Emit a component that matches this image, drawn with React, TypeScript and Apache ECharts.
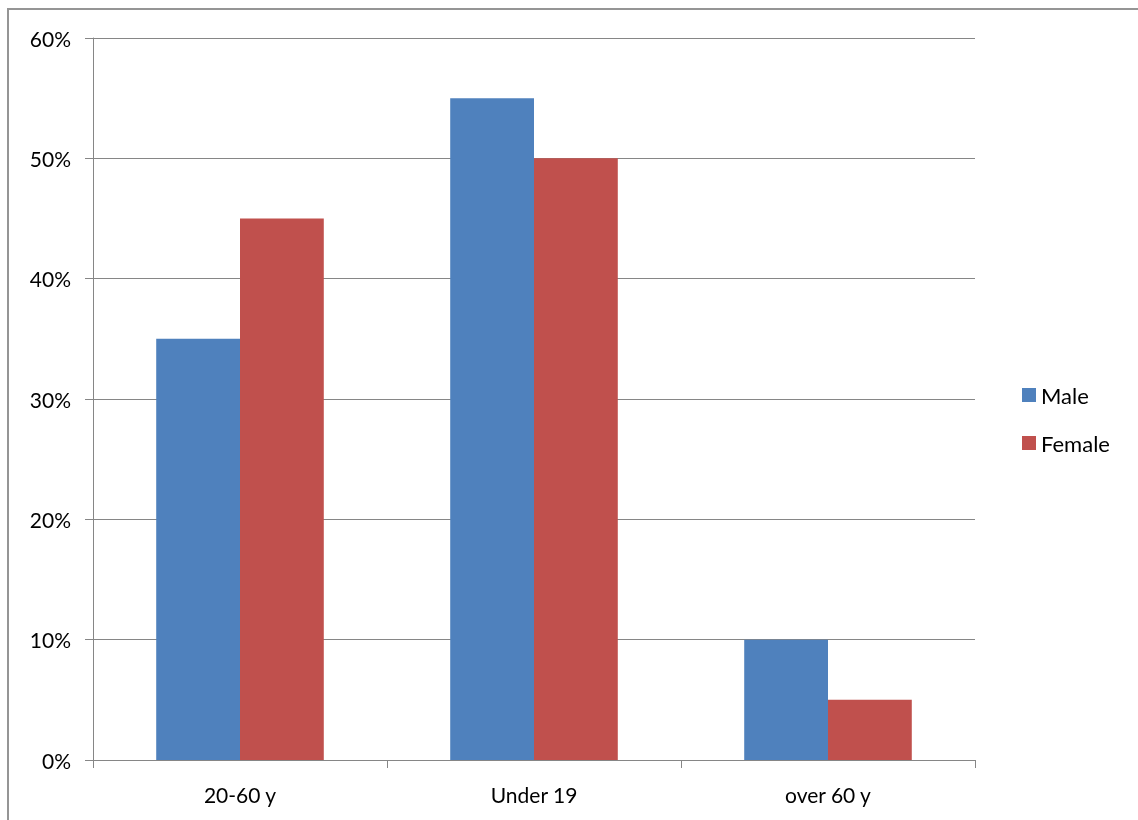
import React, { useEffect, useRef } from "react";
import * as echarts from "echarts";

const categories = ["20-60 y", "Under 19", "over 60 y"];
const maleValues = [35, 55, 10];
const femaleValues = [45, 50, 5];
const seriesNames = ["Male", "Female"];

export default function App() {
  const ref = useRef<HTMLDivElement>(null);
  useEffect(() => {
    if (!ref.current) return;
    const chart = echarts.init(ref.current, null, { renderer: "svg" });
    const font = "Lato, 'Open Sans', sans-serif";
    chart.setOption({
      animation: false,
      textStyle: { fontFamily: font },
      grid: { left: 85, right: 155, top: 30, bottom: 60 },
      legend: {
        orient: "vertical",
        left: 1009,
        top: 371,
        itemWidth: 14,
        itemHeight: 14,
        itemGap: 26,
        icon: "rect",
        textStyle: { fontSize: 22, color: "#000", fontFamily: font },
        data: seriesNames,
      },
      xAxis: {
        type: "category",
        data: categories,
        axisLine: { lineStyle: { color: "#868686", width: 1 } },
        axisTick: { show: true, length: 8, lineStyle: { color: "#868686" } },
        axisLabel: { fontSize: 21, color: "#000", margin: 24, fontFamily: font },
      },
      yAxis: {
        type: "value",
        min: 0,
        max: 60,
        interval: 10,
        axisLine: { show: true, lineStyle: { color: "#868686", width: 1 } },
        axisTick: { show: true, length: 8, lineStyle: { color: "#868686" } },
        axisLabel: { fontSize: 21, color: "#000", margin: 22, formatter: "{value}%", fontFamily: font },
        splitLine: { show: true, lineStyle: { color: "#868686", width: 1 } },
      },
      series: [
        {
          name: seriesNames[0],
          type: "bar",
          data: maleValues,
          itemStyle: { color: "#4F81BD" },
          barGap: "0%",
          barCategoryGap: "43%",
        },
        {
          name: seriesNames[1],
          type: "bar",
          data: femaleValues,
          itemStyle: { color: "#C0504D" },
          barGap: "0%",
          barCategoryGap: "43%",
        },
      ],
    });
    return () => chart.dispose();
  }, []);
  return (
    <div style={{ position: "fixed", left: 0, top: 0, width: 1138, height: 820, overflow: "hidden" }}>
      <div
        style={{
          position: "absolute",
          left: 7,
          top: 8,
          width: 2000,
          height: 2000,
          borderTop: "2px solid #959595",
          borderLeft: "2px solid #959595",
        }}
      />
      <div ref={ref} style={{ position: "absolute", left: 8, top: 8, width: 1122, height: 812 }} />
    </div>
  );
}
